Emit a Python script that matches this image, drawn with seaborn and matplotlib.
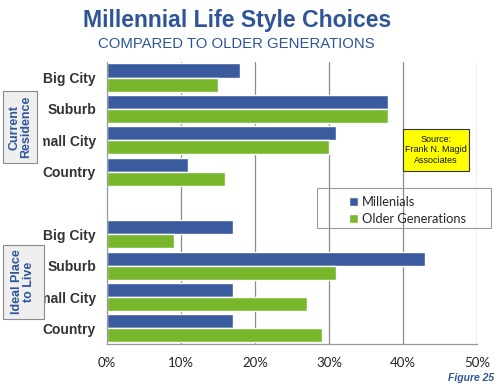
import matplotlib
matplotlib.use("Agg")
import matplotlib.pyplot as plt
import seaborn as sns
import pandas as pd
from matplotlib.patches import Rectangle
from matplotlib.ticker import FixedLocator

# ---- data ----
slot_keys = ["cr_big", "cr_sub", "cr_small", "cr_country", "gap",
             "ip_big", "ip_sub", "ip_small", "ip_country"]
slot_labels = ["Big City", "Suburb", "Small City", "Country", "",
               "Big City", "Suburb", "Small City", "Country"]
data_keys = ["cr_big", "cr_sub", "cr_small", "cr_country",
             "ip_big", "ip_sub", "ip_small", "ip_country"]
millenials = [18, 38, 31, 11, 17, 43, 17, 17]
older = [15, 38, 30, 16, 9, 31, 27, 29]
series_names = ["Millenials", "Older Generations"]
xticks = [0, 10, 20, 30, 40, 50]
xtick_labels = ["0%", "10%", "20%", "30%", "40%", "50%"]

rows = []
for k, m, o in zip(data_keys, millenials, older):
    rows.append({"slot": k, "series": series_names[0], "value": m})
    rows.append({"slot": k, "series": series_names[1], "value": o})
df = pd.DataFrame(rows)

BLUE = "#3A5B9E"
GREEN = "#78B72B"
TXT_BLUE = "#2F5597"

sns.set_style("white")
plt.rcParams["font.family"] = ["Liberation Sans", "DejaVu Sans"]

fig = plt.figure(figsize=(5, 3.87), dpi=100)
ax = fig.add_axes([0.214, 0.111, 0.74, 0.729])

sns.barplot(data=df, y="slot", x="value", hue="series", order=slot_keys,
            hue_order=series_names, palette=[BLUE, GREEN], orient="h",
            width=0.9, ax=ax, legend=True, saturation=1)

ax.set_xlim(0, 50)
ax.set_ylim(8.5, -0.5)
ax.set_xlabel("")
ax.set_ylabel("")
ax.set_xticks(xticks)
ax.set_xticklabels(xtick_labels, fontsize=9.5, color="#222222", family=["Lato", "DejaVu Sans"])
ax.set_yticks(range(len(slot_keys)))
ax.set_yticklabels(slot_labels, fontsize=10, fontweight="bold", color="#333333")
ax.tick_params(axis="y", which="major", length=0, pad=8)
ax.yaxis.set_minor_locator(FixedLocator([i - 0.5 for i in range(len(slot_keys) + 1)]))
ax.tick_params(axis="y", which="minor", length=5, color="#999999", width=0.8)
ax.tick_params(axis="x", which="major", length=5, color="#999999", width=0.8, pad=4)

for x in xticks[1:]:
    ax.axvline(x, color="#8c8c8c", lw=0.9, zorder=0)
for s in ["top", "right"]:
    ax.spines[s].set_visible(False)
for s in ["left", "bottom"]:
    ax.spines[s].set_color("#999999")
    ax.spines[s].set_linewidth(0.9)

# legend
leg = ax.legend(loc="upper left", frameon=False,
                handlelength=0.7, handleheight=0.7, handletextpad=0.3,
                borderpad=0.4, labelspacing=0.45,
                prop={"family": ["Lato", "DejaVu Sans"], "size": 9.3})
leg.set_bbox_to_anchor((337 / 500, 1 - 184 / 387), transform=fig.transFigure)
fig.patches.append(Rectangle((317 / 500, 1 - 228 / 387), (491 - 317) / 500, 40 / 387,
                             transform=fig.transFigure, fill=False,
                             edgecolor="#999999", lw=0.8))

# title
fig.text(0.474, 1 - 20 / 387, "Millennial Life Style Choices", ha="center", va="center",
         fontsize=16.6, fontweight="bold", color=TXT_BLUE)
fig.text(0.472, 1 - 44 / 387, "COMPARED TO OLDER GENERATIONS", ha="center", va="center",
         fontsize=10.7, color=TXT_BLUE)

# side boxes (white mask then gray box)
def side_box(x0, y0, x1, y1, mask_x1, text):
    fig.patches.append(Rectangle((0, 1 - y1 / 387), mask_x1 / 500, (y1 - y0) / 387,
                                 transform=fig.transFigure, facecolor="white",
                                 edgecolor="none", zorder=5))
    fig.patches.append(Rectangle((x0 / 500, 1 - y1 / 387), (x1 - x0) / 500, (y1 - y0) / 387,
                                 transform=fig.transFigure, facecolor="#EFEFEF",
                                 edgecolor="#8a8a8a", lw=0.8, zorder=6))
    fig.text((x0 + x1) / 2 / 500, 1 - (y0 + y1) / 2 / 387, text, rotation=90,
             ha="center", va="center", fontsize=9, fontweight="bold",
             color=TXT_BLUE, linespacing=1.0, zorder=7)

side_box(3, 91, 37, 163, 43, "Current\nResidence")
side_box(3, 245, 44, 319, 44, "Ideal Place\nto Live")

# source box
fig.patches.append(Rectangle((403 / 500, 1 - 171 / 387), 66 / 500, 42 / 387,
                             transform=fig.transFigure, facecolor="#FFFF00",
                             edgecolor="#333333", lw=0.8, zorder=5))
fig.text(436 / 500, 1 - 150 / 387, "Source:\nFrank N. Magid\nAssociates", ha="center",
         va="center", fontsize=6.5, color="#111111", linespacing=1.25, zorder=6)

fig.text(494 / 500, 1 - 378 / 387, "Figure 25", ha="right", va="center", fontsize=7.5,
         fontweight="bold", style="italic", color=TXT_BLUE)

fig.savefig("out.png", dpi=100)
